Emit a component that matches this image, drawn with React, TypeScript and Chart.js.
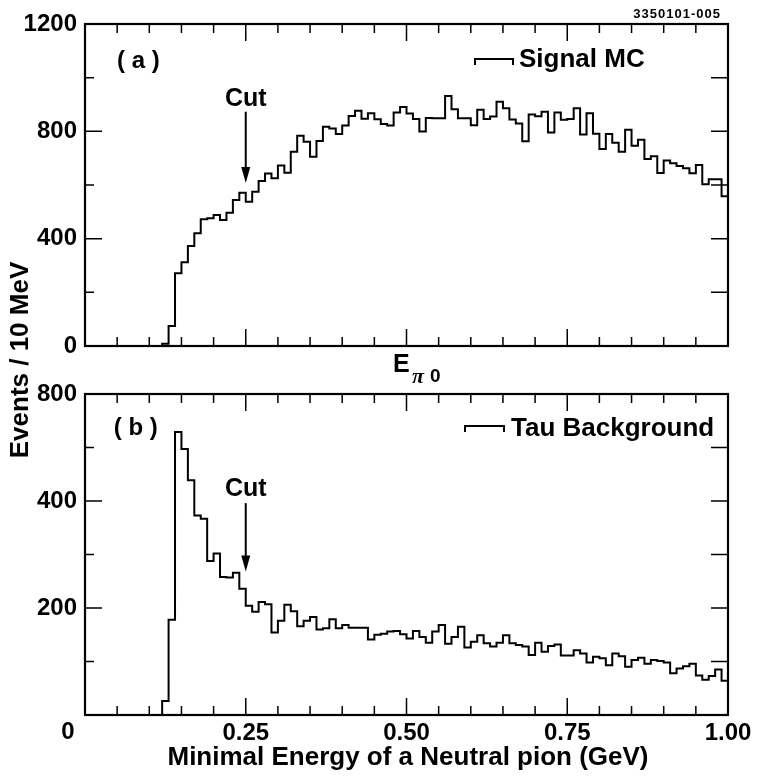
import React, { useEffect, useRef } from 'react';
import { Chart, registerables } from 'chart.js';

Chart.register(...registerables);

// events per 10 MeV bin, 0 - 1 GeV (100 bins)
const signalMC = [
  0, 0, 0, 0, 0, 0, 0, 0, 0, 0,
  0, 0, 8, 75, 271, 312, 373, 420, 472, 476,
  488, 470, 497, 544, 571, 538, 575, 615, 643, 625,
  673, 646, 724, 784, 761, 705, 764, 817, 811, 790,
  822, 857, 877, 847, 867, 845, 827, 822, 870, 891,
  866, 846, 799, 850, 849, 849, 932, 882, 849, 849,
  823, 880, 846, 855, 910, 886, 844, 829, 763, 863,
  856, 873, 796, 870, 843, 846, 886, 788, 867, 791,
  734, 790, 757, 724, 806, 746, 769, 697, 707, 645,
  691, 681, 671, 662, 644, 675, 603, 621, 621, 558,
];

const tauBackground = [
  0, 0, 0, 0, 0, 0, 0, 0, 0, 0,
  0, 0, 26, 178, 529, 497, 439, 373, 367, 288,
  302, 258, 257, 266, 236, 204, 193, 211, 207, 154,
  176, 206, 194, 166, 176, 183, 160, 162, 179, 162,
  168, 163, 163, 163, 141, 150, 152, 156, 157, 151,
  143, 157, 146, 135, 156, 168, 133, 146, 165, 126,
  137, 149, 134, 128, 135, 149, 134, 131, 128, 112,
  135, 118, 129, 132, 111, 111, 121, 115, 98, 109,
  106, 93, 115, 110, 90, 103, 107, 96, 103, 101,
  98, 78, 87, 91, 96, 74, 66, 73, 85, 64,
];

const energyTickValues = [0.25, 0.5, 0.75, 1.0];
const energyTickLabels = ['0.25', '0.50', '0.75', '1.00'];
const signalTickValues = [0, 400, 800, 1200];
const signalTickLabels = ['0', '400', '800', '1200'];
const tauTickValues = [200, 400, 600];
const tauTickLabels = ['200', '400', '800'];

const CUT = 0.25;

const W = 761;
const H = 781;
const PLOT_LEFT = 85;
const PLOT_RIGHT = 728;
const FONT = "'Liberation Sans', Arial, Helvetica, sans-serif";

// histogram outline: left bin edges + closing edge at 1 GeV
const histPoints = (values: number[]) => {
  const pts = values.map((v, i) => ({ x: i / values.length, y: v }));
  pts.push({ x: 1, y: values[values.length - 1] });
  return pts;
};

const findLabel = (v: number, vals: number[], labels: string[]) => {
  const i = vals.findIndex((t) => Math.abs(t - v) < 1e-6);
  return i < 0 ? '' : labels[i];
};

interface PanelSpec {
  values: number[];
  label: string;
  yMax: number;
  yStep: number;
  tickValues: number[];
  tickLabels: string[];
  majorY: number[];
  showX: boolean;
  top: number;
  bottom: number;
  tag: string;
  tagAt: { x: number; y: number };
  cut: { text: number; from: number; to: number };
  legend: { x0: number; x1: number; y: number; textX: number; base: number };
  extra?: (ctx: CanvasRenderingContext2D) => void;
}

const panelDecor = (p: PanelSpec) => ({
  id: 'panelDecor',
  afterDatasetsDraw(chart: any) {
    const { ctx, chartArea: a } = chart;
    const xs = chart.scales.x;
    const ys = chart.scales.y;
    ctx.save();
    ctx.strokeStyle = '#000';
    ctx.fillStyle = '#000';

    // inward tick marks on all four sides
    ctx.lineWidth = 1.5;
    ctx.beginPath();
    xs.ticks.forEach((t: any) => {
      const px = xs.getPixelForValue(t.value);
      const q = t.value * 4;
      const len = Math.abs(q - Math.round(q)) < 1e-6 ? 17 : 9;
      ctx.moveTo(px, a.bottom);
      ctx.lineTo(px, a.bottom - len);
      ctx.moveTo(px, a.top);
      ctx.lineTo(px, a.top + len);
    });
    ys.ticks.forEach((t: any) => {
      const py = ys.getPixelForValue(t.value);
      const len = p.majorY.includes(t.value) ? 17 : 9;
      ctx.moveTo(a.left, py);
      ctx.lineTo(a.left + len, py);
      ctx.moveTo(a.right, py);
      ctx.lineTo(a.right - 17, py);
    });
    ctx.stroke();

    ctx.lineWidth = 2.2;
    ctx.strokeRect(a.left, a.top, a.right - a.left, a.bottom - a.top);

    // panel tag
    ctx.lineWidth = 2;
    ctx.textAlign = 'center';
    ctx.textBaseline = 'alphabetic';
    ctx.font = `bold 24px ${FONT}`;
    ctx.fillText(p.tag, xs.getPixelForValue(p.tagAt.x), ys.getPixelForValue(p.tagAt.y));

    // cut arrow
    const cx = xs.getPixelForValue(CUT);
    ctx.font = `bold 25px ${FONT}`;
    ctx.fillText('Cut', cx, ys.getPixelForValue(p.cut.text));
    const y0 = ys.getPixelForValue(p.cut.from);
    const y1 = ys.getPixelForValue(p.cut.to);
    ctx.beginPath();
    ctx.moveTo(cx, y0);
    ctx.lineTo(cx, y1 - 12);
    ctx.stroke();
    ctx.beginPath();
    ctx.moveTo(cx - 4.5, y1 - 16);
    ctx.lineTo(cx + 4.5, y1 - 16);
    ctx.lineTo(cx, y1);
    ctx.closePath();
    ctx.fill();

    // legend
    const l = p.legend;
    ctx.beginPath();
    ctx.moveTo(l.x0, l.y + 6);
    ctx.lineTo(l.x0, l.y);
    ctx.lineTo(l.x1, l.y);
    ctx.lineTo(l.x1, l.y + 6);
    ctx.stroke();
    ctx.textAlign = 'left';
    ctx.font = `bold 26px ${FONT}`;
    ctx.fillText(p.label, l.textX, l.base);

    if (p.extra) p.extra(ctx);
    ctx.restore();
  },
});

const makeChart = (canvas: HTMLCanvasElement, p: PanelSpec) =>
  new Chart(canvas, {
    type: 'line',
    data: {
      datasets: [
        {
          label: p.label,
          data: histPoints(p.values),
          stepped: 'before',
          borderColor: '#000',
          borderWidth: 2,
          pointRadius: 0,
          fill: false,
          clip: false,
        },
      ],
    },
    options: {
      responsive: false,
      animation: false,
      events: [],
      layout: { padding: { top: p.top, bottom: 0, left: 0, right: W - PLOT_RIGHT } },
      plugins: { legend: { display: false }, tooltip: { enabled: false } },
      scales: {
        x: {
          type: 'linear',
          min: 0,
          max: 1,
          grid: { display: false, drawTicks: false },
          border: { display: false },
          ticks: {
            stepSize: 0.05,
            autoSkip: false,
            maxTicksLimit: 50,
            maxRotation: 0,
            padding: 4,
            color: '#000',
            font: { family: FONT, weight: 'bold', size: 24 },
            callback: (v: any) => (p.showX ? findLabel(Number(v), energyTickValues, energyTickLabels) : ''),
          },
          afterFit: (s: any) => {
            s.height = H - p.bottom;
            s.paddingLeft = 0;
            s.paddingRight = 0;
          },
        },
        y: {
          min: 0,
          max: p.yMax,
          grid: { display: false, drawTicks: false },
          border: { display: false },
          ticks: {
            stepSize: p.yStep,
            autoSkip: false,
            padding: 8,
            color: '#000',
            font: { family: FONT, weight: 'bold', size: 24 },
            callback: (v: any) => findLabel(Number(v), p.tickValues, p.tickLabels),
          },
          afterFit: (s: any) => {
            s.width = PLOT_LEFT;
            s.paddingTop = 0;
            s.paddingBottom = 0;
          },
        },
      },
    },
    plugins: [panelDecor(p)],
  } as any);

const topPanel: PanelSpec = {
  values: signalMC,
  label: 'Signal MC',
  yMax: 1200,
  yStep: 200,
  tickValues: signalTickValues,
  tickLabels: signalTickLabels,
  majorY: [0, 400, 800, 1200],
  showX: false,
  top: 24,
  bottom: 346,
  tag: '( a )',
  tagAt: { x: 0.083, y: 1035 },
  cut: { text: 894, from: 873, to: 607 },
  legend: { x0: 475, x1: 513, y: 59, textX: 519, base: 67 },
  extra: (ctx) => {
    ctx.textAlign = 'left';
    ctx.font = `bold 25px ${FONT}`;
    ctx.fillText('E', 393, 372);
    ctx.font = "italic bold 22px 'Liberation Serif', serif";
    ctx.fillText('\u03c0', 412, 383);
    ctx.font = `bold 19px ${FONT}`;
    ctx.fillText('0', 430, 382);
    ctx.font = `bold 13px ${FONT}`;
    (ctx as any).letterSpacing = '1px';
    ctx.textAlign = 'right';
    ctx.fillText('3350101-005', 721, 18);
    (ctx as any).letterSpacing = '0px';
  },
};

const bottomPanel: PanelSpec = {
  values: tauBackground,
  label: 'Tau Background',
  yMax: 600,
  yStep: 100,
  tickValues: tauTickValues,
  tickLabels: tauTickLabels,
  majorY: [200, 400, 600],
  showX: true,
  top: 394,
  bottom: 715,
  tag: '( b )',
  tagAt: { x: 0.079, y: 524 },
  cut: { text: 410, from: 396, to: 268 },
  legend: { x0: 465, x1: 504, y: 426, textX: 511, base: 436 },
  extra: (ctx) => {
    ctx.font = `bold 24px ${FONT}`;
    ctx.textAlign = 'center';
    ctx.fillText('0', 68, 739);
    ctx.font = `bold 26px ${FONT}`;
    ctx.fillText('Minimal Energy of a Neutral pion (GeV)', 408, 765);
    ctx.save();
    ctx.translate(28, 360);
    ctx.rotate(-Math.PI / 2);
    ctx.fillText('Events / 10 MeV', 0, 0);
    ctx.restore();
  },
};

const App: React.FC = () => {
  const topRef = useRef<HTMLCanvasElement>(null);
  const bottomRef = useRef<HTMLCanvasElement>(null);

  useEffect(() => {
    if (!topRef.current || !bottomRef.current) return;
    const charts = [makeChart(topRef.current, topPanel), makeChart(bottomRef.current, bottomPanel)];
    return () => {
      charts.forEach((c) => c.destroy());
    };
  }, []);

  const canvasStyle: React.CSSProperties = { position: 'absolute', left: 0, top: 0 };
  return (
    <div style={{ position: 'absolute', left: 0, top: 0, width: W, height: H, background: '#fff' }}>
      <canvas ref={topRef} width={W} height={H} style={canvasStyle}></canvas>
      <canvas ref={bottomRef} width={W} height={H} style={canvasStyle}></canvas>
    </div>
  );
};

export default App;
